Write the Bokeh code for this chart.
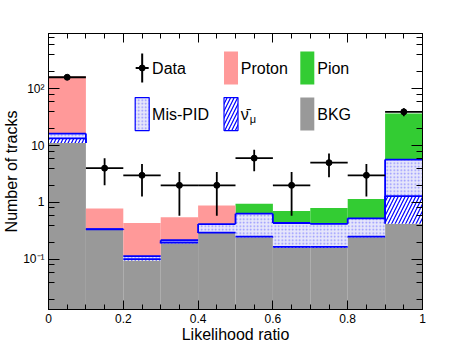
import numpy as np
from bokeh.plotting import figure
from bokeh.models import (Range1d, LinearAxis, LogAxis, SingleIntervalTicker, LogTicker,
                          CustomJSTickFormatter, LinearScale)
from bokeh.core.properties import value
from bokeh.embed import file_html
from bokeh.resources import INLINE

# ---------------- data ----------------
bin_edges = [0.0, 0.1, 0.2, 0.3, 0.4, 0.5, 0.6, 0.7, 0.8, 0.9, 1.0]
data_counts = [158, 4, 3, 2, 2, 6, 2, 5, 3, 39]
bkg = [11.1, 0.333, 0.096, 0.193, 0.29, 0.246, 0.161, 0.161, 0.246, 0.424]
numu = [2.3, 0.003, 0.005, 0.005, 0.005, 0.005, 0.005, 0.005, 0.005, 0.87]
mispid = [2.8, 0.004, 0.013, 0.02, 0.122, 0.385, 0.27, 0.255, 0.276, 4.36]
pion = [0.0, 0.0, 0.0, 0.0, 0.0, 0.318, 0.272, 0.38, 0.624, 30.75]
proton = [146.0, 0.44, 0.32, 0.33, 0.47, 0.0, 0.0, 0.0, 0.0, 0.0]

legend_labels = ["Data", "Proton", "Pion", "Mis-PID", "ν̄", "BKG"]
legend_sub = "μ"
x_tick_values = [0.0, 0.2, 0.4, 0.6, 0.8, 1.0]
x_tick_labels = ["0", "0.2", "0.4", "0.6", "0.8", "1"]
y_tick_values = [0.1, 1.0, 10.0, 100.0]
y_tick_labels = ["10⁻¹", "1", "10", "10²"]
x_title = "Likelihood ratio"
y_title = "Number of tracks"

# ---------------- styles ----------------
FONT = "Liberation Sans"
C_BKG = "#999999"
C_PION = "#33cc33"
C_PROTON = "#ff9999"
C_BLUE = "#0000ff"

edges = np.array(bin_edges)
left = edges[:-1]
right = edges[1:]
centers = 0.5 * (left + right)

comps = np.array([bkg, numu, mispid, pion, proton])
cum = np.cumsum(comps, axis=0)
floor = np.full(len(left), 1e-4)
bottoms = np.vstack([floor, cum[:-1]])

p = figure(frame_width=374, frame_height=276, x_range=Range1d(0, 1),
           y_range=Range1d(0.0132, 927), y_axis_type="log",
           output_backend="svg", toolbar_location=None)
p.min_border = 0
p.min_border_left = 47
p.min_border_top = 33
p.min_border_right = 47
p.min_border_bottom = 34
p.background_fill_color = "white"
p.border_fill_color = "white"
p.outline_line_color = "black"
p.outline_line_width = 1
p.xgrid.grid_line_color = None
p.ygrid.grid_line_color = None

# fills: BKG, numu (hatched), mis-PID (dotted), pion, proton
p.quad(left=left, right=right, bottom=bottoms[0], top=cum[0], fill_color=C_BKG, line_color=None)
p.quad(left=left, right=right, bottom=bottoms[1], top=cum[1], fill_color="white",
       hatch_pattern="/", hatch_color=C_BLUE, hatch_scale=7, hatch_weight=1.2, line_color=None)
p.quad(left=left, right=right, bottom=bottoms[2], top=cum[2], fill_color="#e6e6fb",
       hatch_pattern=".", hatch_color="#5555ff", hatch_scale=3.5, hatch_weight=1,
       hatch_alpha=0.6, line_color=None)
p.quad(left=left, right=right, bottom=bottoms[3], top=cum[3], fill_color=C_PION, line_color=None)
p.quad(left=left, right=right, bottom=bottoms[4], top=cum[4], fill_color=C_PROTON, line_color=None)

# blue outlines for numu and mis-PID tops
for top in (cum[1], cum[2]):
    p.segment(x0=left, x1=right, y0=top, y1=top, line_color=C_BLUE, line_width=1.8)
    bk = np.array(bkg)
    lo = np.maximum(np.minimum(top[:-1], top[1:]), np.maximum(bk[:-1], bk[1:]))
    hi = np.maximum(top[:-1], top[1:])
    m = hi > lo
    p.segment(x0=right[:-1][m], x1=right[:-1][m], y0=lo[m], y1=hi[m],
              line_color=C_BLUE, line_width=1.8)

# data with errors
dc = np.array(data_counts, dtype=float)
err = np.sqrt(dc)
p.segment(x0=left, x1=right, y0=dc, y1=dc, line_color="black", line_width=1.8)
p.segment(x0=centers, x1=centers, y0=dc - err, y1=dc + err, line_color="black", line_width=1.8)
p.scatter(centers, dc, size=6, fill_color="black", line_color="black")

# ---------------- axes ----------------
xfmt_code = """
let best = ""; let d = 1e9;
for (let i = 0; i < vals.length; i++) { const dd = Math.abs(vals[i] - tick); if (dd < d) { d = dd; best = labels[i]; } }
return d < 1e-6 ? best : "";
"""
yfmt_code = """
let best = ""; let d = 1e9;
for (let i = 0; i < vals.length; i++) { const dd = Math.abs(Math.log10(vals[i]) - Math.log10(tick)); if (dd < d) { d = dd; best = labels[i]; } }
return d < 1e-6 ? best : "";
"""
blank = CustomJSTickFormatter(code="return '';")

xt = SingleIntervalTicker(interval=0.2, num_minor_ticks=4)
yt = LogTicker()

xa = p.xaxis[0]
xa.ticker = xt
xa.formatter = CustomJSTickFormatter(args=dict(vals=x_tick_values, labels=x_tick_labels), code=xfmt_code)
ya = p.yaxis[0]
ya.ticker = yt
ya.formatter = CustomJSTickFormatter(args=dict(vals=y_tick_values, labels=y_tick_labels), code=yfmt_code)

xa.major_tick_in = 9
xa.major_tick_out = 0
xa.minor_tick_in = 5
xa.minor_tick_out = 0
ya.major_tick_in = 11
ya.major_tick_out = 0
ya.minor_tick_in = 6
ya.minor_tick_out = 0

for ax in (xa, ya):
    ax.axis_line_color = "black"
    ax.major_tick_line_color = "black"
    ax.minor_tick_line_color = "black"
    ax.major_label_text_font = FONT
    ax.major_label_text_font_size = "12px"
    ax.major_label_text_color = "black"
    ax.axis_label_text_font = FONT
    ax.axis_label_text_font_size = "16px"
    ax.axis_label_text_font_style = "normal"
    ax.axis_label_text_color = "black"

xa.axis_label = x_title
xa.major_label_standoff = 4
xa.axis_label_standoff = 0
ya.axis_label = y_title
ya.major_label_standoff = 4
ya.axis_label_standoff = 0

top_ax = LinearAxis(ticker=xt, formatter=blank, major_tick_in=9, major_tick_out=0,
                    minor_tick_in=5, minor_tick_out=0, major_label_standoff=0,
                    major_label_text_font_size="1px")
right_ax = LogAxis(ticker=yt, formatter=blank, major_tick_in=11, major_tick_out=0,
                   minor_tick_in=6, minor_tick_out=0, major_label_standoff=0,
                   major_label_text_font_size="1px")
p.add_layout(top_ax, "above")
p.add_layout(right_ax, "right")

# ---------------- legend (normalised frame coordinates) ----------------
p.extra_x_ranges = {"ndc": Range1d(0, 1)}
p.extra_y_ranges = {"ndc": Range1d(0, 1)}
p.extra_y_scales = {"ndc": LinearScale()}
kw = dict(x_range_name="ndc", y_range_name="ndc")

col_x = [0.2505, 0.488, 0.692]
row_y = [0.875, 0.708]
text_x = [0.277, 0.514, 0.7185]

# Data marker
p.rect(x=[col_x[0]], y=[row_y[0]], width=13, height=2, width_units="screen", height_units="screen",
       fill_color="black", line_color=None, **kw)
p.rect(x=[col_x[0]], y=[row_y[0]], width=2, height=29, width_units="screen", height_units="screen",
       fill_color="black", line_color=None, **kw)
p.scatter(x=[col_x[0]], y=[row_y[0]], size=6, fill_color="black", line_color="black", **kw)

box = dict(width=14, height=33, width_units="screen", height_units="screen")
p.rect(x=[col_x[1]], y=[row_y[0]], fill_color=C_PROTON, line_color=None, **box, **kw)
p.rect(x=[col_x[2]], y=[row_y[0]], fill_color=C_PION, line_color=None, **box, **kw)
p.rect(x=[col_x[0]], y=[row_y[1]], fill_color="#e6e6fb", hatch_pattern=".", hatch_color="#5555ff",
       hatch_scale=3.5, hatch_alpha=0.6, line_color=C_BLUE, line_width=1.2, **box, **kw)
p.rect(x=[col_x[1]], y=[row_y[1]], fill_color="white", hatch_pattern="/", hatch_color=C_BLUE,
       hatch_scale=7, hatch_weight=1.2, line_color=C_BLUE, line_width=1.2, **box, **kw)
p.rect(x=[col_x[2]], y=[row_y[1]], fill_color=C_BKG, line_color=None, **box, **kw)

tx = [text_x[0], text_x[1], text_x[2], text_x[0], text_x[1], text_x[2]]
ty = [row_y[0], row_y[0], row_y[0], row_y[1], row_y[1], row_y[1]]
p.text(x=tx, y=ty, text=legend_labels, text_font=value(FONT), text_font_size="16px",
       text_baseline="middle", text_align="left", text_color="black", **kw)
p.text(x=[text_x[1] + 0.024], y=[row_y[1] - 0.018], text=[legend_sub], text_font=value(FONT),
       text_font_size="11px", text_baseline="middle", text_align="left", text_color="black", **kw)

open("out.html", "w").write(file_html(p, INLINE))
